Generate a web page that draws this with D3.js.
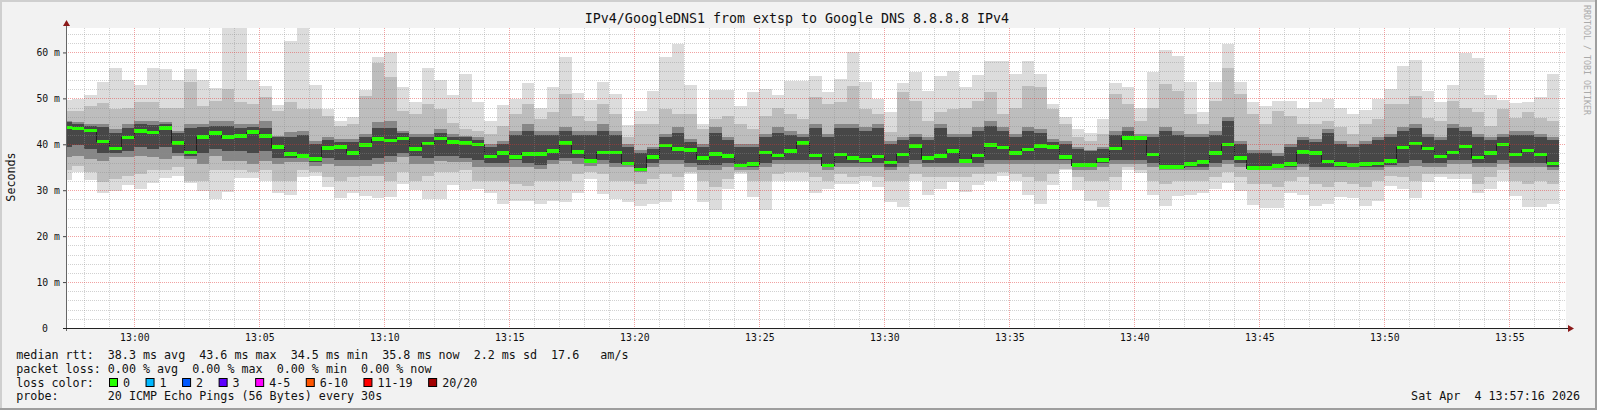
<!DOCTYPE html>
<html lang="en">
<head>
<meta charset="UTF-8">
<title>IPv4/GoogleDNS1</title>
<style>
body{ margin:0; background:#f2f2f2; }
text{ font-family:"DejaVu Sans Mono", monospace; }
</style>
</head>
<body>
<svg id="chart" width="1597" height="410"></svg>

<script src="https://d3js.org/d3.v7.min.js"></script>
<script>
// one entry per 30 s step, 12:57:00 .. 13:57:00 (values in ms)
var medianRtt = [43.6,43.4,43.0,40.6,39.0,41.4,42.9,42.5,43.5,40.3,
 38.2,41.5,42.4,41.5,41.7,42.6,41.8,39.4,37.8,37.4,
 36.8,39.2,39.4,38.0,39.8,41.1,40.8,41.2,38.9,40.1,
 41.2,40.5,40.3,39.9,37.3,38.0,37.2,37.9,37.9,38.5,
 40.3,38.3,36.3,38.2,38.2,35.8,34.5,37.2,39.7,38.9,
 38.7,37.0,37.9,37.4,35.3,35.6,38.2,37.5,38.5,40.3,
 37.5,35.3,37.7,37.0,36.6,37.3,36.0,37.7,39.6,37.0,
 37.4,38.5,36.3,37.5,39.8,39.3,38.0,38.8,39.6,39.4,
 37.2,35.4,35.4,36.5,39.0,41.3,41.3,37.7,35.0,35.0,
 35.6,36.1,38.0,39.9,37.0,34.8,34.8,35.2,35.6,38.3,
 38.1,36.2,35.6,35.4,35.7,35.8,36.3,39.3,40.1,39.0,
 37.3,38.2,39.5,37.1,38.1,39.9,37.7,38.6,37.7,35.8];

var maxRtt = [49.6,49.9,50.7,53.5,56.6,54.1,53.0,56.6,56.3,54.1,
 56.3,54.1,52.2,66,66,54.1,52.7,48.5,62.5,66,
 53.0,47.6,45.1,46.0,51.8,59.1,60.0,52.4,49.3,56.7,
 54.0,50.8,55.3,49.1,45.1,48.6,49.9,53.3,48.0,52.5,
 59.1,51.2,49.6,53.6,50.9,44.3,47.3,51.7,59.1,61.8,
 52.9,44.4,51.9,51.9,48.3,51.3,52.0,50.8,53.8,53.8,
 54.8,51.3,54.2,60.2,53.5,49.9,47.0,53.3,55.7,51.7,
 54.8,56.0,52.4,55.1,58.1,58.1,55.4,58.1,55.4,48.8,
 46.0,43.3,42.4,45.5,53.3,52.5,48.0,55.8,60.5,59.3,
 53.5,47.0,53.6,61.8,53.5,49.3,48.4,49.5,49.5,48.0,
 49.1,49.9,48.0,46.6,47.5,49.9,52.0,57.1,58.3,51.7,
 49.3,52.9,59.9,58.8,50.7,49.6,48.9,49.3,50.2,55.3];

var minRtt = [32.3,34.0,32.3,29.3,29.8,31.1,30.2,31.6,32.7,33.0,
 31.6,29.9,28.1,29.7,32.7,32.7,32.1,29.5,29.0,32.8,
 33.0,30.6,28.4,29.5,28.8,28.4,28.6,31.4,30.1,28.1,
 28.1,31.2,30.1,30.3,29.5,26.9,27.7,27.7,27.0,27.7,
 27.4,29.5,32.4,29.2,28.1,27.4,26.6,27.0,27.5,29.8,
 33.5,27.4,25.8,30.3,33.5,28.6,25.6,31.9,32.1,32.1,
 29.5,30.3,31.4,31.4,32.1,30.6,27.4,26.3,32.1,29.0,
 30.3,31.7,29.6,31.2,31.9,33.0,32.1,29.0,26.9,31.2,
 34.3,30.0,27.6,26.4,30.0,34.4,33.7,29.0,26.6,28.8,
 29.0,29.3,30.3,31.5,29.8,26.8,26.2,26.1,29.5,29.0,
 26.6,26.9,28.6,28.4,26.6,27.6,31.0,30.3,28.4,31.7,
 32.8,32.4,32.4,29.3,30.3,32.1,28.8,26.4,26.4,27.1];

// smoke layers, outer to inner
var hi2 = [47.3,47.2,48.4,49.0,47.7,48.0,49.1,49.1,48.0,48.0,
 53.5,48.4,49.5,52.0,49.1,48.8,50.2,47.2,49.1,47.7,
 47.7,46.2,44.0,44.4,50.6,57.8,54.6,47.3,46.6,48.8,
 47.7,44.6,43.3,43.0,42.2,44.0,46.6,48.8,45.5,47.0,
 50.9,46.2,45.1,48.8,46.6,41.5,44.4,44.4,47.7,46.6,
 46.6,43.3,45.5,46.1,44.4,43.3,46.2,48.0,46.6,45.5,
 50.2,48.8,49.1,52.8,47.7,46.6,42.6,51.3,49.5,45.1,
 47.0,47.7,48.0,49.5,51.3,46.6,48.0,52.8,52.4,47.7,
 44.4,41.5,40.8,42.2,50.9,48.8,45.1,48.0,53.1,51.7,
 46.6,44.4,49.5,56.7,50.9,46.6,44.4,47.3,46.2,44.4,
 44.4,45.1,43.7,42.2,44.4,45.5,48.8,48.8,50.6,45.8,
 45.1,49.5,48.0,47.0,44.0,47.7,45.8,47.0,45.8,45.1];

var lo2 = [34.3,35.3,33.9,31.7,32.4,33.2,33.5,34.3,34.3,35.0,
 32.1,32.1,34.3,34.3,34.3,33.9,34.3,32.1,32.1,34.3,
 33.9,32.8,32.1,32.8,33.2,33.2,32.1,33.9,32.1,33.2,
 33.9,33.9,34.3,32.1,32.1,32.1,31.4,31.0,32.1,32.1,
 32.1,33.5,33.9,33.5,32.1,32.1,31.4,32.4,33.5,32.8,
 33.9,32.1,30.7,32.4,33.9,32.1,32.1,33.5,33.9,33.9,
 32.8,32.1,33.5,32.8,33.2,32.8,32.1,32.1,33.5,32.8,
 32.8,32.8,32.8,33.5,33.5,33.9,33.5,32.8,32.1,33.5,
 34.6,32.8,32.1,32.1,32.8,35.0,34.3,32.1,31.4,32.1,
 32.1,32.1,32.8,33.9,32.8,31.4,31.4,30.7,32.1,32.8,
 31.4,30.7,31.7,31.4,30.7,32.1,33.2,32.8,32.1,33.5,
 33.5,33.5,33.5,31.4,32.8,34.3,32.1,31.4,32.1,31.4];

var hi3 = [45.1,44.8,44.4,44.4,43.3,44.4,45.1,45.1,44.8,43.0,
 44.4,44.4,45.1,45.1,44.4,44.4,45.1,41.9,42.6,43.0,
 40.8,41.5,41.1,41.1,42.2,44.8,45.1,43.0,42.2,42.2,
 43.3,42.2,41.9,41.5,40.1,40.8,43.0,44.4,43.0,43.0,
 43.7,43.0,43.0,44.4,43.0,40.1,38.7,39.4,42.2,43.7,
 41.1,40.1,43.7,41.5,40.1,40.1,42.2,43.7,43.0,42.2,
 44.4,42.2,44.4,44.4,43.7,44.4,40.8,41.5,42.2,41.5,
 44.4,42.2,42.2,43.7,45.1,43.7,42.2,43.7,43.3,41.1,
 40.8,39.4,38.7,39.4,43.0,43.7,42.2,42.2,43.7,43.0,
 42.2,42.2,43.0,45.9,40.8,38.7,38.7,38.0,40.1,41.5,
 41.1,43.3,40.8,40.1,40.8,41.5,42.2,43.7,44.4,42.2,
 41.5,44.4,43.7,42.2,41.5,42.2,43.0,43.0,42.2,41.5];

var lo3 = [37.2,37.5,36.8,36.4,37.2,37.2,37.5,37.2,36.8,37.5,
 36.8,35.7,37.5,36.4,36.4,35.7,36.4,35.7,36.1,36.1,
 35.3,35.7,35.3,35.3,35.3,35.7,36.1,37.2,35.7,35.7,
 36.4,36.1,36.1,35.0,35.0,35.0,35.0,35.0,34.6,35.7,
 36.4,35.7,35.3,35.7,35.0,35.0,33.9,35.0,35.7,35.7,
 35.0,34.3,34.3,35.0,34.3,34.3,35.0,35.7,35.7,35.7,
 35.7,34.3,35.0,35.0,35.0,35.0,34.3,35.0,35.7,35.0,
 35.0,35.0,35.0,35.0,35.7,35.7,35.7,35.7,35.7,35.7,
 35.7,34.3,34.3,35.0,35.7,35.7,35.7,35.0,34.3,34.3,
 34.3,34.3,35.0,35.7,35.0,34.3,34.3,34.3,34.3,35.0,
 34.3,34.3,34.3,34.3,34.3,34.3,35.0,35.0,35.3,35.0,
 35.0,35.7,35.7,35.0,35.0,35.7,35.0,35.0,35.0,34.3];

var hi4 = [44.8,44.5,44.0,43.8,42.5,43.5,44.5,44.2,44.5,42.5,
 43.5,43.8,44.0,44.0,43.5,43.8,43.5,41.5,41.5,42.0,
 40.0,41.0,40.5,40.5,41.5,43.5,43.5,42.5,41.5,41.5,
 42.5,41.5,41.5,41.0,39.5,40.0,42.0,43.0,42.0,42.0,
 43.0,42.0,42.0,43.0,42.0,39.5,38.0,39.0,41.5,42.5,
 40.5,39.5,42.5,41.0,39.5,39.5,41.5,42.5,42.0,41.5,
 43.5,41.5,43.5,43.5,43.0,43.5,40.0,41.0,41.5,41.0,
 43.5,41.5,41.5,43.0,44.0,43.0,41.5,43.0,42.5,40.5,
 40.0,39.0,38.5,39.0,42.0,43.0,41.8,41.5,43.0,42.0,
 41.5,41.5,42.0,45.0,40.0,38.0,38.0,37.5,39.5,41.0,
 40.5,42.5,40.0,39.5,40.0,41.0,41.5,43.0,43.5,41.5,
 41.0,43.5,43.0,41.5,41.0,41.5,42.0,42.0,41.5,41.0];

var lo4 = [39.5,39.8,39.0,38.0,38.0,38.5,39.5,39.0,39.5,38.0,
 37.5,38.0,39.0,38.5,38.5,38.0,38.5,37.0,37.0,37.0,
 36.2,37.0,36.5,36.5,36.5,37.0,37.5,38.0,37.5,37.0,
 37.5,37.5,37.0,36.5,36.0,36.0,36.5,36.0,35.5,36.5,
 37.0,37.0,36.0,36.5,36.0,35.5,34.5,36.0,36.5,36.5,
 36.0,35.5,35.5,36.0,35.0,35.0,36.0,36.5,36.5,36.5,
 36.5,35.0,36.0,36.0,36.0,36.0,35.0,36.0,36.5,36.0,
 36.0,36.0,36.0,36.0,36.5,36.5,36.5,36.5,36.5,36.5,
 36.5,35.0,35.0,36.0,36.5,36.5,36.5,36.0,35.0,35.0,
 35.0,35.0,36.0,36.5,36.0,34.5,34.5,34.8,35.0,35.8,
 35.0,35.0,35.0,35.0,35.0,35.0,35.5,36.0,36.5,36.0,
 36.0,36.5,36.5,36.0,36.0,36.5,36.0,36.0,36.0,35.0];

var yTicks = [0, 10, 20, 30, 40, 50, 60];
var lossLabels = ["0", "1", "2", "3", "4-5", "6-10", "11-19", "20/20"];
var lossColors = ["#26ff00", "#00b8ff", "#0059ff", "#5e00ff", "#ff00ff", "#ff5500", "#ff0000", "#a10000"];

var title = "IPv4/GoogleDNS1 from extsp to Google DNS 8.8.8.8 IPv4";
var legendLines = [
  "median rtt:  38.3 ms avg  43.6 ms max  34.5 ms min  35.8 ms now  2.2 ms sd  17.6   am/s",
  "packet loss: 0.00 % avg  0.00 % max  0.00 % min  0.00 % now",
  "loss color:",
  "probe:       20 ICMP Echo Pings (56 Bytes) every 30s"
];
var stamp = "Sat Apr  4 13:57:16 2026";

var W = 1597, H = 410;
var pLeft = 66, pRight = 1566, pTop = 28, pBottom = 328;
var charW = 7.04;

var svg = d3.select("#chart");

var t0 = new Date(2026, 3, 4, 12, 57, 16),
    t1 = new Date(2026, 3, 4, 13, 57, 16),
    binStart = new Date(2026, 3, 4, 12, 57, 0),
    step = 30 * 1000;

var x = d3.scaleTime().domain([t0, t1]).range([pLeft, pRight]);
var y = d3.scaleLinear().domain([0, 65.32]).range([pBottom, pTop]);

function x0(i) { return Math.max(pLeft, x(new Date(+binStart + i * step))); }
function x1(i) { return x(new Date(+binStart + (i + 1) * step)); }

// frame
svg.append("rect").attr("width", W).attr("height", H).attr("fill", "#f2f2f2");
svg.append("line").attr("x1", 0).attr("x2", W).attr("y1", 1).attr("y2", 1).attr("stroke", "#cfcfcf").attr("stroke-width", 2);
svg.append("line").attr("x1", 1).attr("x2", 1).attr("y1", 0).attr("y2", H).attr("stroke", "#cfcfcf").attr("stroke-width", 2);
svg.append("line").attr("x1", 0).attr("x2", W).attr("y1", H - 1).attr("y2", H - 1).attr("stroke", "#9e9e9e").attr("stroke-width", 2);
svg.append("line").attr("x1", W - 1).attr("x2", W - 1).attr("y1", 0).attr("y2", H).attr("stroke", "#9e9e9e").attr("stroke-width", 2);

svg.append("rect").attr("x", pLeft).attr("y", pTop).attr("width", pRight - pLeft).attr("height", pBottom - pTop).attr("fill", "#fff");

svg.append("clipPath").attr("id", "plotclip")
  .append("rect").attr("x", pLeft).attr("y", pTop).attr("width", pRight - pLeft).attr("height", pBottom - pTop);

var plot = svg.append("g").attr("clip-path", "url(#plotclip)").attr("shape-rendering", "crispEdges");

// smoke
var layers = [
  [minRtt, maxRtt, "#dcdcdc"],
  [lo2, hi2, "#bdbdbd"],
  [lo3, hi3, "#878787"],
  [lo4, hi4, "#474747"]
];
layers.forEach(function (L) {
  plot.append("g").selectAll("rect")
    .data(medianRtt)
    .join("rect")
      .attr("x", function (d, i) { return x0(i); })
      .attr("width", function (d, i) { return x1(i) - x0(i); })
      .attr("y", function (d, i) { return y(L[1][i]); })
      .attr("height", function (d, i) { return y(L[0][i]) - y(L[1][i]); })
      .attr("fill", L[2]);
});

// median step line
var pts = [];
medianRtt.forEach(function (d, i) { pts.push([x0(i), y(d)]); pts.push([x1(i), y(d)]); });
plot.append("path")
  .attr("d", d3.line()(pts))
  .attr("fill", "none")
  .attr("stroke", "#202020")
  .attr("stroke-width", 1);

plot.append("g").selectAll("rect")
  .data(medianRtt)
  .join("rect")
    .attr("x", function (d, i) { return x0(i); })
    .attr("width", function (d, i) { return x1(i) - x0(i); })
    .attr("y", function (d) { return y(d) - 2; })
    .attr("height", 3.6)
    .attr("fill", lossColors[0]);

// grid on top
var grid = svg.append("g");
d3.range(2, 65.32, 2).filter(function (v) { return v % 10 !== 0; }).forEach(function (v) {
  grid.append("line").attr("x1", pLeft).attr("x2", pRight).attr("y1", Math.round(y(v)) + 0.5).attr("y2", Math.round(y(v)) + 0.5)
    .attr("stroke", "#8c8c8c").attr("stroke-opacity", 0.4).attr("stroke-dasharray", "1,1");
});
d3.timeMinute.range(t0, t1).forEach(function (t) {
  var major = t.getMinutes() % 5 === 0;
  var xx = Math.round(x(t)) + 0.5;
  grid.append("line").attr("x1", xx).attr("x2", xx).attr("y1", pTop).attr("y2", pBottom)
    .attr("stroke", major ? "#e03030" : "#8c8c8c").attr("stroke-opacity", major ? 0.45 : 0.4)
    .attr("stroke-dasharray", "1,1");
});
yTicks.filter(function (v) { return v > 0; }).forEach(function (v) {
  grid.append("line").attr("x1", pLeft).attr("x2", pRight).attr("y1", Math.round(y(v)) + 0.5).attr("y2", Math.round(y(v)) + 0.5)
    .attr("stroke", "#e03030").attr("stroke-opacity", 0.45).attr("stroke-dasharray", "1,1");
});

// axes
var yAxis = svg.append("g").attr("transform", "translate(" + pLeft + ",0)")
  .call(d3.axisLeft(y).tickValues(yTicks).tickSize(3).tickPadding(3)
    .tickFormat(function (d) { return d === 0 ? "0" : d + " m"; }));
yAxis.select(".domain").remove();
yAxis.selectAll("line").attr("stroke", "#444");
yAxis.selectAll("text").attr("font-family", "DejaVu Sans Mono").attr("font-size", 9.8).attr("fill", "#111")
  .attr("dx", function (d) { return d === 0 ? -12 : 0; });

var xAxis = svg.append("g").attr("transform", "translate(0," + pBottom + ")")
  .call(d3.axisBottom(x).ticks(d3.timeMinute.every(5)).tickSize(0).tickPadding(6)
    .tickFormat(d3.timeFormat("%H:%M")));
xAxis.select(".domain").remove();
xAxis.selectAll("text").attr("font-family", "DejaVu Sans Mono").attr("font-size", 9.8).attr("fill", "#111");

svg.append("line").attr("x1", pLeft + 0.5).attr("x2", pLeft + 0.5).attr("y1", pBottom + 3).attr("y2", 24)
  .attr("stroke", "#666").attr("stroke-width", 1);
svg.append("line").attr("x1", pLeft - 3).attr("x2", pRight + 3).attr("y1", pBottom + 0.5).attr("y2", pBottom + 0.5)
  .attr("stroke", "#222").attr("stroke-width", 1);
svg.append("path").attr("d", "M" + (pLeft - 3) + ",26L" + (pLeft + 4) + ",26L" + (pLeft + 0.5) + ",20Z").attr("fill", "#8b1a1a");
svg.append("path").attr("d", "M" + (pRight + 2) + "," + (pBottom - 3) + "L" + (pRight + 2) + "," + (pBottom + 4) + "L" + (pRight + 8) + "," + (pBottom + 0.5) + "Z").attr("fill", "#8b1a1a");

// texts
svg.append("text").attr("x", 797).attr("y", 23).attr("text-anchor", "middle")
  .attr("font-size", 13.3).attr("fill", "#111").text(title);

svg.append("text").attr("transform", "translate(15,177) rotate(-90)").attr("text-anchor", "middle")
  .attr("font-size", 11.7).attr("fill", "#111").text("Seconds");

svg.append("text").attr("transform", "translate(1583.5,5) rotate(90)")
  .attr("font-size", 8.3).attr("fill", "#aaa").text("RRDTOOL / TOBI OETIKER");

var baselines = [358.5, 372.5, 386.5, 400.3];
legendLines.forEach(function (s, i) {
  svg.append("text").attr("x", 16.3).attr("y", baselines[i])
    .attr("font-size", 11.7).attr("fill", "#111")
    .attr("xml:space", "preserve").style("white-space", "pre").text(s);
});

var lx = 109;
lossLabels.forEach(function (lab, i) {
  svg.append("rect").attr("x", lx + 0.5).attr("y", 378.5).attr("width", 8).attr("height", 8)
    .attr("fill", lossColors[i]).attr("stroke", "#000").attr("stroke-width", 1);
  svg.append("text").attr("x", lx + 14).attr("y", baselines[2])
    .attr("font-size", 11.7).attr("fill", "#111").text(lab);
  lx += 14 + lab.length * charW + 15.5;
});

svg.append("text").attr("x", 1580).attr("y", baselines[3]).attr("text-anchor", "end")
  .attr("font-size", 11.7).attr("fill", "#111")
  .attr("xml:space", "preserve").style("white-space", "pre").text(stamp);
</script>
</body>
</html>
